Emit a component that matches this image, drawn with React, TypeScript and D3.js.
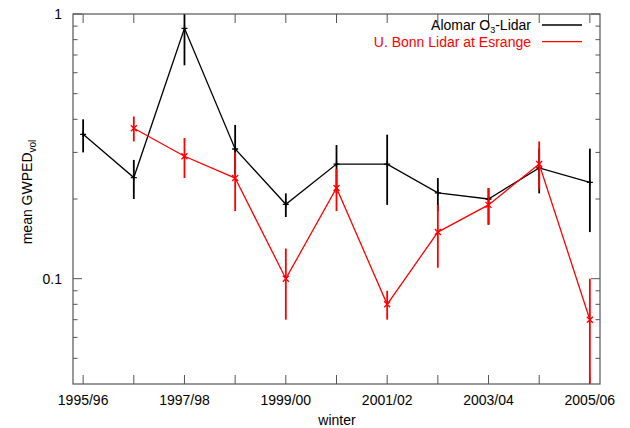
import React from 'react'
import * as d3 from 'd3'

// winters on the x axis
const winters = [
  '1995/96', '1996/97', '1997/98', '1998/99', '1999/00', '2000/01',
  '2001/02', '2002/03', '2003/04', '2004/05', '2005/06',
]

// Alomar O3-Lidar
const alomarMean = [0.351, 0.241, 0.883, 0.309, 0.191, 0.271, 0.271, 0.211, 0.2, 0.262, 0.231]
const alomarLow = [0.3, 0.2, 0.64, 0.247, 0.171, 0.21, 0.19, 0.18, 0.16, 0.21, 0.15]
const alomarHigh = [0.4, 0.281, 1.0, 0.381, 0.21, 0.32, 0.35, 0.24, 0.22, 0.31, 0.31]

// U. Bonn Lidar at Esrange (no value for the first winter)
const bonnMean = [null, 0.37, 0.29, 0.24, 0.1, 0.22, 0.08, 0.15, 0.19, 0.271, 0.07]
const bonnLow = [null, 0.33, 0.24, 0.18, 0.07, 0.18, 0.07, 0.11, 0.16, 0.217, 0.03]
const bonnHigh = [null, 0.41, 0.34, 0.3, 0.13, 0.26, 0.09, 0.19, 0.22, 0.33, 0.1]

const yMajor = [0.1, 1]
const yMinor = [0.05, 0.06, 0.07, 0.08, 0.09, 0.2, 0.3, 0.4, 0.5, 0.6, 0.7, 0.8, 0.9]

const left = 73
const right = 600
const top = 14
const bottom = 384
const font = '"Liberation Sans", Arial, Helvetica, sans-serif'

type Pt = { i: number; v: number; lo: number; hi: number }

const toPts = (m: (number | null)[], lo: (number | null)[], hi: (number | null)[]): Pt[] =>
  m.map((v, i) => (v == null ? null : { i, v, lo: lo[i] as number, hi: hi[i] as number }))
    .filter((d): d is Pt => d !== null)

export default function App() {
  const x = d3.scaleLinear().domain([-0.2, 10.2]).range([left, right])
  const y = d3.scaleLog().domain([0.04, 1]).range([bottom, top])
  const yc = (v: number) => y(Math.max(0.04, Math.min(1, v)))

  const line = d3.line<Pt>().x((d) => x(d.i)).y((d) => y(d.v))

  const series = [
    { name: 'Alomar', color: '#000', pts: toPts(alomarMean, alomarLow, alomarHigh), mark: 'plus' },
    { name: 'Bonn', color: '#ff0000', pts: toPts(bonnMean, bonnLow, bonnHigh), mark: 'cross' },
  ]

  const s = 3
  return (
    <svg width={630} height={428} style={{ position: 'absolute', left: 0, top: 0 }} fontFamily={font}>
      <rect width={630} height={428} fill="#fff" />

      {/* frame ticks */}
      <g stroke="#555" strokeWidth={1}>
        {winters.map((w, i) => (
          <g key={w}>
            <line x1={x(i)} x2={x(i)} y1={bottom} y2={bottom - 9} />
            <line x1={x(i)} x2={x(i)} y1={top} y2={top + 9} />
          </g>
        ))}
        {yMajor.map((v) => (
          <g key={v}>
            <line x1={left} x2={left + 9} y1={y(v)} y2={y(v)} />
            <line x1={right} x2={right - 9} y1={y(v)} y2={y(v)} />
          </g>
        ))}
        {yMinor.map((v) => (
          <g key={v}>
            <line x1={left} x2={left + 4.5} y1={y(v)} y2={y(v)} />
            <line x1={right} x2={right - 4.5} y1={y(v)} y2={y(v)} />
          </g>
        ))}
      </g>

      {/* data */}
      {series.map((sr) => (
        <g key={sr.name} stroke={sr.color} fill="none">
          <path d={line(sr.pts) ?? ''} strokeWidth={1.3} />
          {sr.pts.map((d) => (
            <line key={'e' + d.i} x1={x(d.i)} x2={x(d.i)} y1={yc(d.hi)} y2={yc(d.lo)} strokeWidth={1.8} />
          ))}
          {sr.pts.map((d) =>
            sr.mark === 'plus' ? (
              <path key={'m' + d.i} strokeWidth={1.3}
                d={`M${x(d.i) - s},${y(d.v)}h${2 * s}M${x(d.i)},${y(d.v) - s}v${2 * s}`} />
            ) : (
              <path key={'m' + d.i} strokeWidth={1.3}
                d={`M${x(d.i) - s},${y(d.v) - s}l${2 * s},${2 * s}M${x(d.i) - s},${y(d.v) + s}l${2 * s},${-2 * s}`} />
            )
          )}
        </g>
      ))}

      <rect x={left} y={top} width={right - left} height={bottom - top} fill="none" stroke="#555" strokeWidth={1.2} />

      {/* tick labels */}
      <g fontSize={14} fill="#000">
        {winters.map((w, i) =>
          i % 2 === 0 ? (
            <text key={w} x={x(i)} y={405} textAnchor="middle">{w}</text>
          ) : null
        )}
        {yMajor.map((v) => (
          <text key={v} x={62} y={y(v) + 5} textAnchor="end">{v}</text>
        ))}
        <text x={337} y={425} textAnchor="middle">winter</text>
        <text transform="translate(32,192) rotate(-90)" textAnchor="middle">
          mean GWPED<tspan fontSize={10} dy={4}>vol</tspan>
        </text>
      </g>

      {/* legend */}
      <g fontSize={14}>
        <text x={531} y={30} textAnchor="end" fill="#000">
          Alomar O<tspan fontSize={9} dy={3}>3</tspan><tspan dy={-3}>-Lidar</tspan>
        </text>
        <line x1={542} x2={582} y1={25} y2={25} stroke="#000" strokeWidth={1.3} />
        <text x={531} y={47} textAnchor="end" fill="#ff0000">U. Bonn Lidar at Esrange</text>
        <line x1={542} x2={582} y1={41.7} y2={41.7} stroke="#ff0000" strokeWidth={1.3} />
      </g>
    </svg>
  )
}
